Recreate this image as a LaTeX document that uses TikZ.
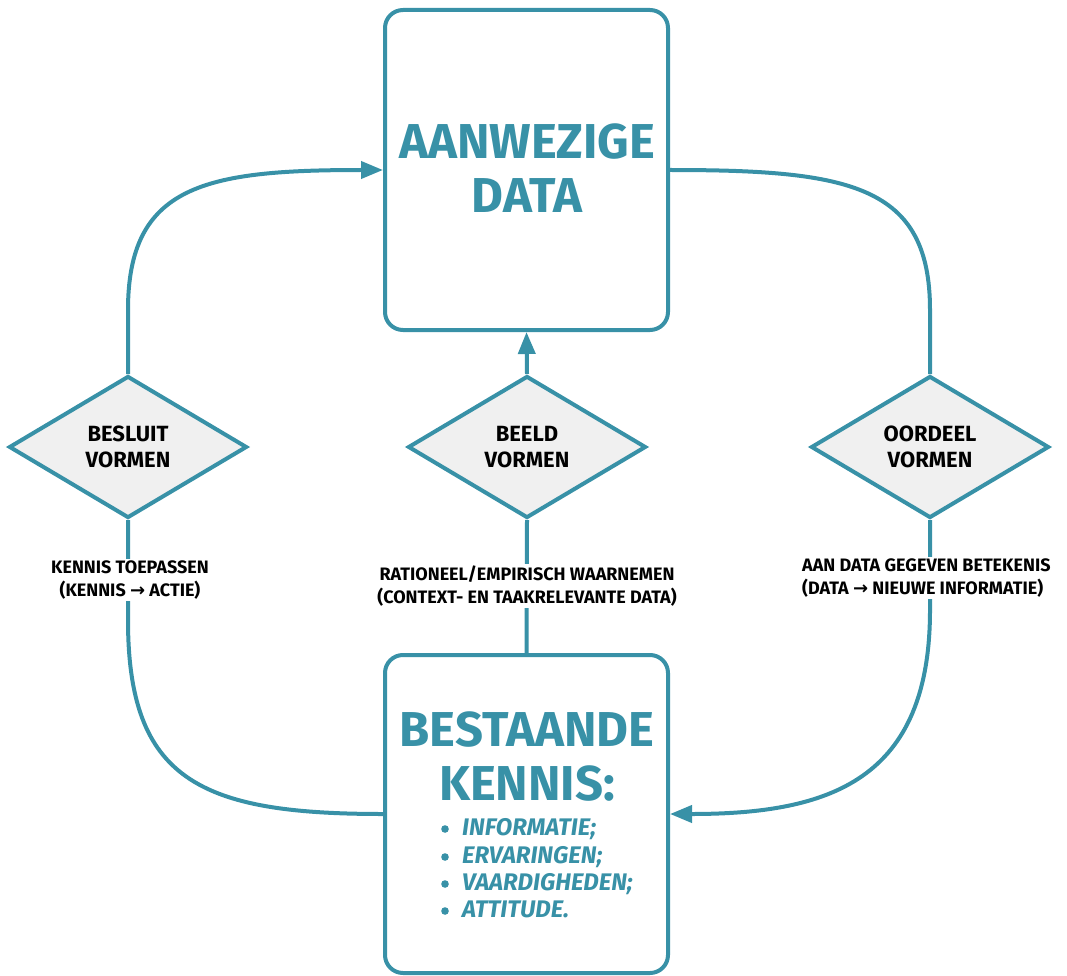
\documentclass[tikz,border=0pt]{standalone}
\usepackage{fontspec}
\setmainfont{Fira Sans}
\newfontfamily\arrowfont{DejaVu Sans}
\usetikzlibrary{shapes.geometric,arrows.meta}
\definecolor{teal1}{RGB}{56,145,167}
\definecolor{dfill}{RGB}{240,240,240}
\newcommand{\rarr}{{\arrowfont\bfseries →}}
\begin{document}
\begin{tikzpicture}[x=1pt,y=-1pt,
  box/.style={draw=teal1,line width=4pt,rounded corners=18pt,minimum width=283pt,minimum height=320pt,inner sep=0pt,fill=white},
  dia/.style={diamond,draw=teal1,fill=dfill,line width=4pt,minimum width=238pt,minimum height=142pt,inner sep=0pt,font=\bfseries\fontsize{22}{26}\selectfont,align=center},
  conn/.style={draw=teal1,line width=4pt},
  arr/.style={conn,-{Triangle[length=22pt,width=17pt]}},
  lbl/.style={fill=white,inner sep=2pt,font=\bfseries\fontsize{18}{23}\selectfont,align=center},
  title/.style={text=teal1,font=\bfseries\fontsize{49}{54}\selectfont,align=center},
  item/.style={text=teal1,font=\bfseries\itshape\fontsize{24}{27}\selectfont,anchor=base west,inner sep=0pt}]
\useasboundingbox (0,0) rectangle (1067,976);
\clip (0,0) rectangle (1067,976);

% boxes
\node[box] (ad) at (526.5,170) {};
\node[box,minimum height=318pt] (kb) at (526.5,814) {};
\node[title] (adt) at (527,168) {AANWEZIGE\\DATA};
\node[title] (kbt) at (527,757) {BESTAANDE\\KENNIS:};
\node[item] (b1) at (462,835) {INFORMATIE;};
\node[item] (b2) at (462,863) {ERVARINGEN;};
\node[item] (b3) at (462,890) {VAARDIGHEDEN;};
\node[item] (b4) at (462,917) {ATTITUDE.};
\foreach \yy in {829,857,884,911} \fill[teal1] (445,\yy) circle (3.8pt);

% diamonds
\node[dia] (d1) at (128,447) {BESLUIT\\VORMEN};
\node[dia] (d2) at (527,447) {BEELD\\VORMEN};
\node[dia] (d3) at (930,447) {OORDEEL\\VORMEN};

% connectors
\draw[arr] (d1.north) -- (128,310) .. controls (128,185) and (205,170) .. (ad.west);
\draw[conn] (ad.east) .. controls (850,170) and (930,185) .. (930,310) -- (d3.north);
\draw[arr] (d2.north) -- (ad.south);
\draw[conn] (kb.north) -- (d2.south);
\draw[conn] (kb.west) .. controls (200,814) and (128,780) .. (128,620) -- (d1.south);
\draw[arr] (d3.south) -- (930,610) .. controls (930,780) and (830,814) .. (kb.east);

% connector labels
\node[lbl] (l1) at (130,580) {KENNIS TOEPASSEN\\(KENNIS \rarr{} ACTIE)};
\node[lbl] (l2) at (527,586) {RATIONEEL/EMPIRISCH WAARNEMEN\\(CONTEXT- EN TAAKRELEVANTE DATA)};
\node[lbl,align=left,anchor=west] (l3) at (800,578) {AAN DATA GEGEVEN BETEKENIS\\(DATA \rarr{} NIEUWE INFORMATIE)};
\end{tikzpicture}
\end{document}
